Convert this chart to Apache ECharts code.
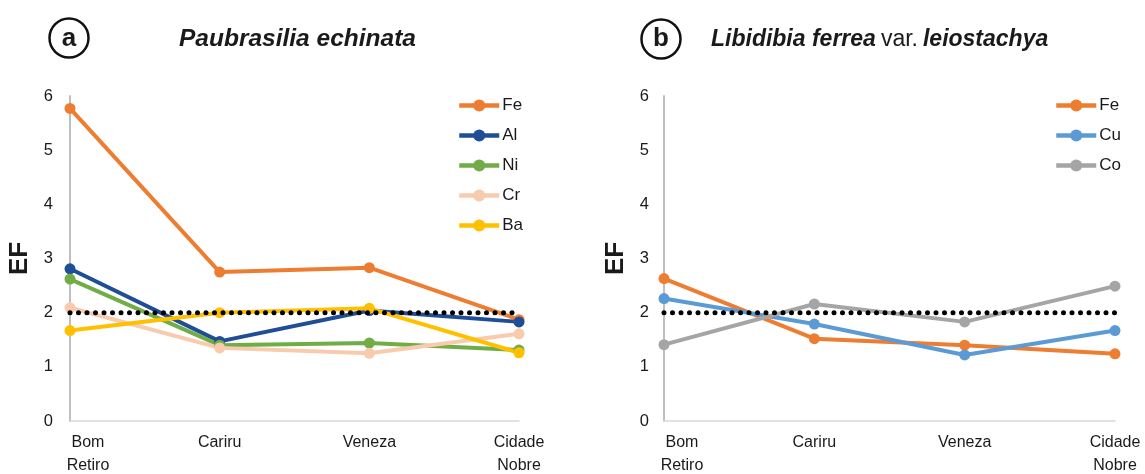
<!DOCTYPE html>
<html>
<head>
<meta charset="utf-8">
<script src="https://cdn.jsdelivr.net/npm/echarts@6/dist/echarts.min.js"></script>
<style>html,body{margin:0;padding:0;background:#fff}#c{width:1145px;height:474px}</style>
</head>
<body>
<div id="c"></div>
<script>
const categories = ['Bom\nRetiro', 'Cariru', 'Veneza', 'Cidade\nNobre'];
const yTicks = [0, 1, 2, 3, 4, 5, 6];
const threshold = [2, 2, 2, 2];

// Panel a: Paubrasilia echinata
const aFe = [5.77, 2.75, 2.83, 1.87];
const aAl = [2.81, 1.47, 2.04, 1.83];
const aNi = [2.62, 1.40, 1.44, 1.31];
const aCr = [2.09, 1.35, 1.25, 1.61];
const aBa = [1.67, 2.00, 2.08, 1.26];

// Panel b: Libidibia ferrea var. leiostachya
const bFe = [2.63, 1.52, 1.40, 1.24];
const bCu = [2.26, 1.79, 1.22, 1.67];
const bCo = [1.41, 2.16, 1.83, 2.49];

const FONT = '"Liberation Sans", Arial, sans-serif';
const TXT = '#1a1a1a';

function xAxisFor(gi) {
  return {
    type: 'category', gridIndex: gi, data: categories, boundaryGap: false,
    axisLine: { lineStyle: { color: '#d9d9d9', width: 1.5 } },
    axisTick: { show: false },
    axisLabel: {
      margin: 10, interval: 0,
      formatter: (v, i) => v.split('\n').map(l => '{' + (i === 0 ? 's' : 'n') + '|' + l + '}').join('\n'),
      rich: {
        n: { fontSize: 16, lineHeight: 23, color: TXT, fontFamily: FONT },
        s: { fontSize: 16, lineHeight: 23, color: TXT, fontFamily: FONT, padding: [0, 0, 0, 36] }
      }
    }
  };
}
function yAxisFor(gi, margin, gap) {
  return {
    type: 'value', gridIndex: gi, min: yTicks[0], max: yTicks[yTicks.length - 1], interval: 1,
    name: 'EF', nameLocation: 'middle', nameRotate: 90, nameGap: gap,
    nameTextStyle: { fontSize: 26, fontWeight: 'bold', color: TXT, fontFamily: FONT },
    axisLine: { show: true, lineStyle: { color: '#bfbfbf', width: 2 } },
    axisTick: { show: false },
    splitLine: { show: false },
    axisLabel: { margin: margin, fontSize: 16.5, color: TXT, fontFamily: FONT }
  };
}
function lineSeries(name, data, color, gi) {
  return {
    type: 'line', name: name, data: data, xAxisIndex: gi, yAxisIndex: gi,
    symbol: 'circle', symbolSize: 11, color: color,
    lineStyle: { width: 4, color: color }, itemStyle: { color: color },
    emphasis: { disabled: true }, animation: false
  };
}
function thresholdSeries(gi) {
  return {
    type: 'line', name: 'EF = 2', data: threshold, xAxisIndex: gi, yAxisIndex: gi,
    symbol: 'none', z: 5, silent: true, animation: false,
    lineStyle: { color: '#000', width: 5, type: [0, 8.5], cap: 'round' }
  };
}
function legendFor(left, names) {
  return {
    orient: 'vertical', left: left, top: 97, padding: 0,
    itemWidth: 40, itemHeight: 15, itemGap: 13,
    data: names.map(n => ({ name: n })),
    formatter: n => n.trim(),
    lineStyle: { width: 4.5 },
    textStyle: { fontSize: 17, color: TXT, fontFamily: FONT, padding: [0, 0, 0, -2] },
    selectedMode: false
  };
}

const chart = echarts.init(document.getElementById('c'), null, { renderer: 'canvas' });
chart.setOption({
  backgroundColor: '#fff',
  animation: false,
  textStyle: { fontFamily: FONT },
  title: [
    { text: 'Paubrasilia echinata', left: 179, top: 27, padding: 0,
      textStyle: { fontSize: 24.5, fontWeight: 'bold', fontStyle: 'italic', color: TXT, fontFamily: FONT } },
    { text: '{i|Libidibia ferrea} {r|var.} {i|leiostachya}', left: 711, top: 28, padding: 0,
      textStyle: { rich: {
        i: { fontSize: 23, fontWeight: 'bold', fontStyle: 'italic', color: TXT, fontFamily: FONT },
        r: { fontSize: 23, fontWeight: 'normal', color: TXT, fontFamily: FONT }
      } } }
  ],
  graphic: [
    { type: 'circle', shape: { cx: 69, cy: 38, r: 19.5 }, style: { fill: '#fff', stroke: '#111', lineWidth: 2.5 } },
    { type: 'text', x: 69, y: 39, style: { text: 'a', fontSize: 26, fontWeight: 'bold', fill: TXT, align: 'center', verticalAlign: 'middle', fontFamily: FONT } },
    { type: 'circle', shape: { cx: 661, cy: 39, r: 19.5 }, style: { fill: '#fff', stroke: '#111', lineWidth: 2.5 } },
    { type: 'text', x: 661, y: 39, style: { text: 'b', fontSize: 26, fontWeight: 'bold', fill: TXT, align: 'center', verticalAlign: 'middle', fontFamily: FONT } }
  ],
  legend: [
    legendFor(457, ['Fe', 'Al', 'Ni', 'Cr', 'Ba']),
    legendFor(1054, ['Fe ', 'Cu', 'Co'])
  ],
  grid: [
    { left: 70, right: 626, top: 96, bottom: 53 },
    { left: 664, right: 30, top: 96, bottom: 53 }
  ],
  xAxis: [xAxisFor(0), xAxisFor(1)],
  yAxis: [yAxisFor(0, 17, 37), yAxisFor(1, 15, 35)],
  series: [
    lineSeries('Fe', aFe, '#ED7D31', 0),
    lineSeries('Al', aAl, '#1F4E96', 0),
    lineSeries('Ni', aNi, '#70AD47', 0),
    lineSeries('Cr', aCr, '#F8CBAD', 0),
    lineSeries('Ba', aBa, '#FFC000', 0),
    thresholdSeries(0),
    lineSeries('Fe ', bFe, '#ED7D31', 1),
    lineSeries('Cu', bCu, '#5B9BD5', 1),
    lineSeries('Co', bCo, '#A5A5A5', 1),
    thresholdSeries(1)
  ]
});
</script>
</body>
</html>
